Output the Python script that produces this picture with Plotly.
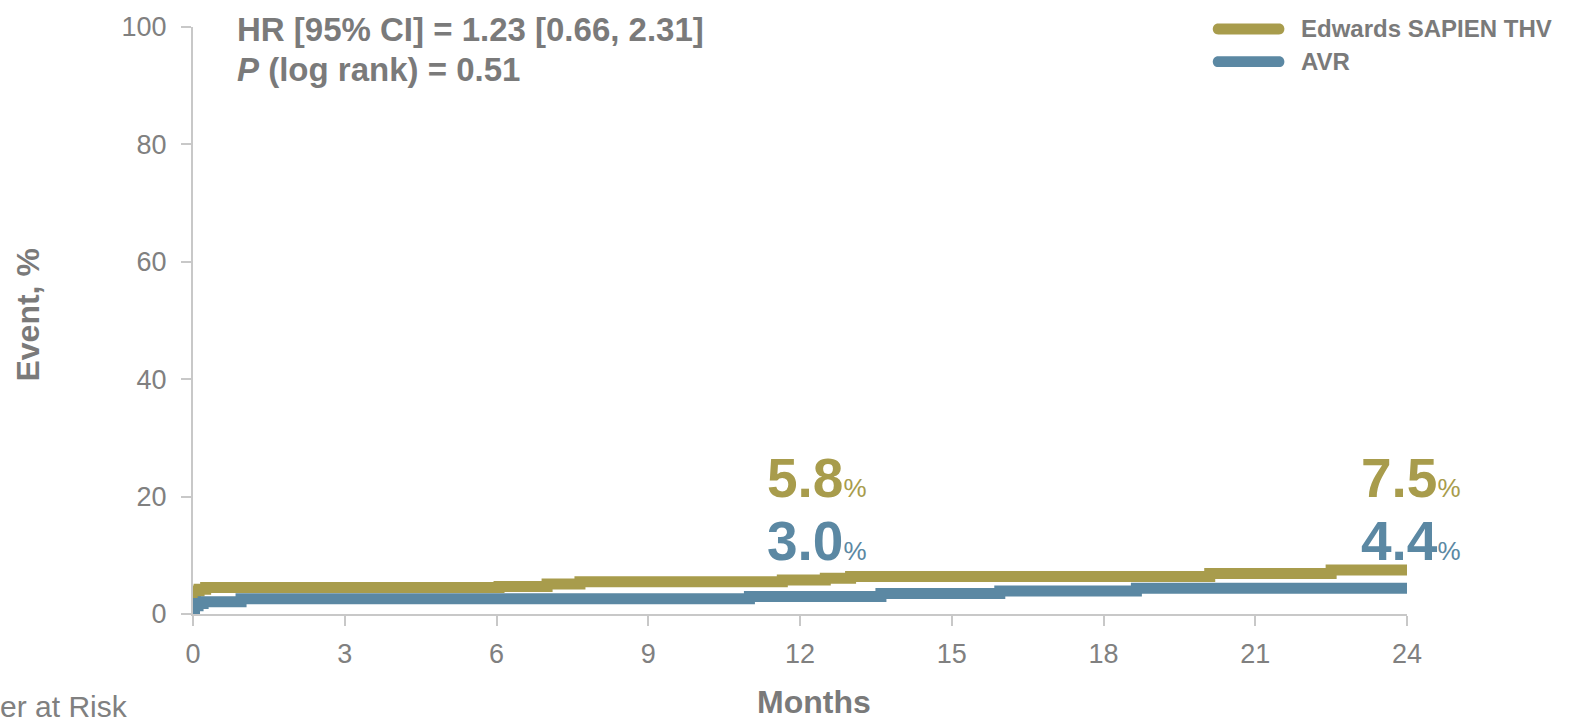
import plotly.graph_objects as go

# ---- data ----
months_edwards = [0, 0.05, 0.12, 0.25, 6.05, 7.0, 7.65, 11.65, 12.5, 13.0, 20.1, 22.5, 24]
event_edwards = [3.4, 3.9, 4.2, 4.5, 4.7, 5.1, 5.5, 5.8, 6.1, 6.4, 6.9, 7.5, 7.5]
months_avr = [0, 0.03, 0.1, 0.2, 0.95, 11.0, 13.6, 15.95, 18.65, 24]
event_avr = [0.6, 1.4, 1.8, 2.1, 2.6, 3.0, 3.5, 3.9, 4.4, 4.4]

x_ticks = [0, 3, 6, 9, 12, 15, 18, 21, 24]
y_ticks = [0, 20, 40, 60, 80, 100]

series_names = ["Edwards SAPIEN THV", "AVR"]
label_months = [12, 24]
labels_edwards = ["5.8", "7.5"]
labels_avr = ["3.0", "4.4"]

OLIVE = "#A89C4C"
BLUE = "#5B88A3"
GRAY = "#7a7a7a"
AXIS = "#c8c8c8"
FONT = "Liberation Sans, Arial, sans-serif"

fig = go.Figure()
fig.add_trace(go.Scatter(x=months_edwards, y=event_edwards, mode="lines",
                         line=dict(color=OLIVE, width=11, shape="hv"),
                         name=series_names[0], showlegend=False))
fig.add_trace(go.Scatter(x=months_avr, y=event_avr, mode="lines",
                         line=dict(color=BLUE, width=11, shape="hv"),
                         name=series_names[1], showlegend=False))

fig.update_layout(
    width=1585, height=722,
    margin=dict(l=193, r=178, t=18, b=108),
    paper_bgcolor="white", plot_bgcolor="white",
    font=dict(family=FONT, color="#808080"),
)
fig.update_xaxes(range=[0, 24], tickvals=x_ticks, ticktext=[str(v) for v in x_ticks],
                 showgrid=False, zeroline=False, showline=True, linecolor=AXIS, linewidth=2,
                 ticks="outside", ticklen=10, tickcolor=AXIS, tickwidth=2,
                 tickfont=dict(size=27, color="#808080"), ticklabelstandoff=5)
fig.update_yaxes(range=[0, 100], tickvals=y_ticks, ticktext=[str(v) for v in y_ticks],
                 showgrid=False, zeroline=False, showline=True, linecolor=AXIS, linewidth=2,
                 ticks="outside", ticklen=10, tickcolor=AXIS, tickwidth=2,
                 tickfont=dict(size=27, color="#808080"), ticklabelstandoff=9)

ann = []
# axis titles
ann.append(dict(text="<b>Months</b>", xref="paper", yref="paper", x=0.5115, y=-0.15,
                xanchor="center", yanchor="middle", showarrow=False,
                font=dict(size=32, color=GRAY)))
ann.append(dict(text="<b>Event, %</b>", xref="paper", yref="paper", x=-0.136, y=0.51,
                xanchor="center", yanchor="middle", showarrow=False, textangle=-90,
                font=dict(size=32, color=GRAY)))
ann.append(dict(text="Number at Risk", xref="paper", yref="paper", x=-0.052, y=-0.158,
                xanchor="right", yanchor="middle", showarrow=False,
                font=dict(size=30, color="#808080")))
# stats
ann.append(dict(text="<b>HR [95% CI] = 1.23 [0.66, 2.31]</b>", xref="paper", yref="paper",
                x=0.0346, y=0.995, xanchor="left", yanchor="middle", showarrow=False,
                font=dict(size=33, color=GRAY)))
ann.append(dict(text="<b><i>P</i> (log rank) = 0.51</b>", xref="paper", yref="paper",
                x=0.0346, y=0.927, xanchor="left", yanchor="middle", showarrow=False,
                font=dict(size=33, color=GRAY)))
# value labels
label_x = [11.3, 23.05]
for i, m in enumerate(label_months):
    ann.append(dict(text=f"<b>{labels_edwards[i]}</b><span style='font-size:26px'>%</span>",
                    xref="x", yref="y", x=label_x[i], y=23.2, xanchor="left", yanchor="middle",
                    showarrow=False, font=dict(size=55, color=OLIVE)))
    ann.append(dict(text=f"<b>{labels_avr[i]}</b><span style='font-size:26px'>%</span>",
                    xref="x", yref="y", x=label_x[i], y=12.4, xanchor="left", yanchor="middle",
                    showarrow=False, font=dict(size=55, color=BLUE)))

# legend (rounded line samples)
leg_y = [0.9966, 0.941]
leg_col = [OLIVE, BLUE]
x0, x1 = 0.840, 0.899
hy = 5.5 / 596.0
rx = 5.5 / 1214.0
shapes = []
for i, nm in enumerate(series_names):
    yc = leg_y[i]
    path = (f"M {x0+rx},{yc+hy} L {x1-rx},{yc+hy} "
            f"C {x1+rx*0.33},{yc+hy} {x1+rx*0.33},{yc-hy} {x1-rx},{yc-hy} "
            f"L {x0+rx},{yc-hy} "
            f"C {x0-rx*0.33},{yc-hy} {x0-rx*0.33},{yc+hy} {x0+rx},{yc+hy} Z")
    shapes.append(dict(type="path", xref="paper", yref="paper", path=path,
                       fillcolor=leg_col[i], line=dict(width=0)))
    ann.append(dict(text=f"<b>{nm}</b>", xref="paper", yref="paper", x=0.911, y=yc,
                    xanchor="left", yanchor="middle", showarrow=False,
                    font=dict(size=24, color=GRAY)))

fig.update_layout(annotations=ann, shapes=shapes)
fig.write_html("out.html")
